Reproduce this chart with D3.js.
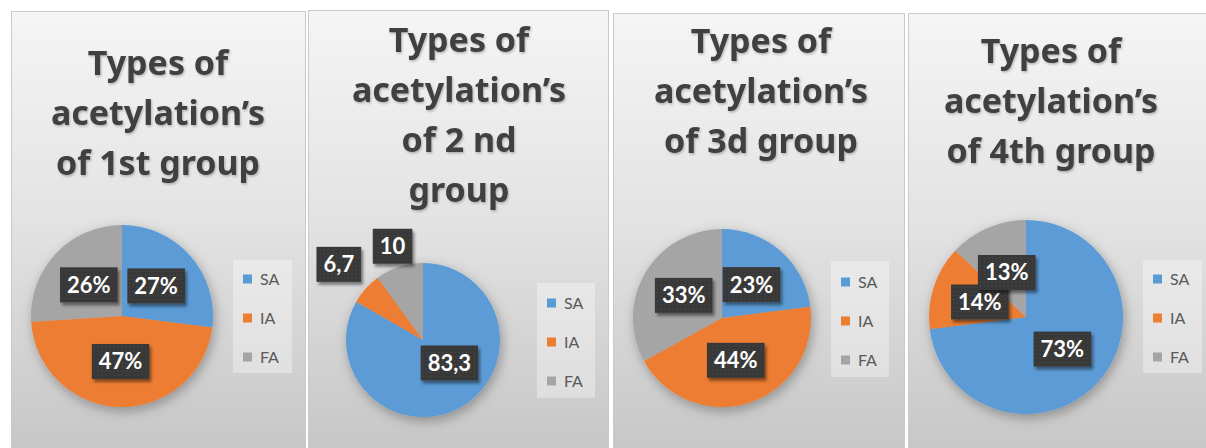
<!DOCTYPE html>
<html>
<head>
<meta charset="utf-8">
<script src="https://cdn.jsdelivr.net/npm/d3@7"></script>
<style>
  html, body { margin: 0; padding: 0; background: #ffffff; }
  svg { display: block; }
</style>
</head>
<body>
<svg id="chart" width="1206" height="448"></svg>
<script>
// Acetylation types per group
const categories = ["SA", "IA", "FA"];
const colors = ["#5b9bd5", "#ed7d31", "#a5a5a5"];

const titles1 = ["Types of", "acetylation\u2019s", "of 1st group"];
const titles2 = ["Types of", "acetylation\u2019s", "of 2 nd", "group"];
const titles3 = ["Types of", "acetylation\u2019s", "of 3d group"];
const titles4 = ["Types of", "acetylation\u2019s", "of 4th group"];

const values1 = [27, 47, 26];
const values2 = [83.3, 6.7, 10];
const values3 = [23, 44, 33];
const values4 = [73, 14, 13];

const labels1 = ["27%", "47%", "26%"];
const labels2 = ["83,3", "6,7", "10"];
const labels3 = ["23%", "44%", "33%"];
const labels4 = ["73%", "14%", "13%"];

// Panel geometry (layout only)
const panels = [
  { titles: titles1, values: values1, labels: labels1,
    box: [11, 11, 294], titleX: 158, titleY: 75,
    cx: 122, cy: 316, r: 91,
    labelK: [1, 1, 1], nudge: [[0, 0], [0, 0], [0, 0]],
    legend: [233, 260, 59, 113], legendY0: 279 },
  { titles: titles2, values: values2, labels: labels2,
    box: [308, 10, 300], titleX: 459, titleY: 52,
    cx: 423, cy: 340, r: 77,
    labelK: [0.9, 2.94, 2.56], nudge: [[9, -7], [0, 0], [0, 0]],
    legend: [537, 283, 58, 115], legendY0: 303 },
  { titles: titles3, values: values3, labels: labels3,
    box: [613, 13, 291], titleX: 761, titleY: 53,
    cx: 722, cy: 318, r: 89,
    labelK: [1, 1, 1], nudge: [[0, 0], [0, 0], [0, 0]],
    legend: [831, 261, 58, 116], legendY0: 282 },
  { titles: titles4, values: values4, labels: labels4,
    box: [908, 13, 310], titleX: 1051, titleY: 63,
    cx: 1026, cy: 317, r: 97,
    labelK: [1, 1, 1], nudge: [[0, 0], [0, 0], [0, 0]],
    legend: [1143, 260, 59, 113], legendY0: 279 }
];

const svg = d3.select("#chart");
const defs = svg.append("defs");

// panel background gradient
const grad = defs.append("linearGradient")
  .attr("id", "panelBg").attr("x1", 0).attr("y1", 0).attr("x2", 0).attr("y2", 1);
grad.append("stop").attr("offset", "0%").attr("stop-color", "#f5f5f5");
grad.append("stop").attr("offset", "45%").attr("stop-color", "#e3e3e3");
grad.append("stop").attr("offset", "100%").attr("stop-color", "#c4c4c4");

// soft shadow around the pies
const pieShadow = defs.append("filter").attr("id", "pieShadow")
  .attr("x", "-30%").attr("y", "-30%").attr("width", "160%").attr("height", "160%");
pieShadow.append("feDropShadow").attr("dx", 2).attr("dy", 4)
  .attr("stdDeviation", 6).attr("flood-color", "#000").attr("flood-opacity", 0.3);

// shadow under data label boxes
const boxShadow = defs.append("filter").attr("id", "boxShadow")
  .attr("x", "-30%").attr("y", "-30%").attr("width", "160%").attr("height", "170%");
boxShadow.append("feDropShadow").attr("dx", 2).attr("dy", 3)
  .attr("stdDeviation", 1.5).attr("flood-color", "#000").attr("flood-opacity", 0.45);

// title shadow
const textShadow = defs.append("filter").attr("id", "textShadow")
  .attr("x", "-10%").attr("y", "-20%").attr("width", "120%").attr("height", "150%");
textShadow.append("feDropShadow").attr("dx", 1).attr("dy", 1.5)
  .attr("stdDeviation", 1).attr("flood-color", "#000").attr("flood-opacity", 0.25);

// dotted fill for label boxes
const dots = defs.append("pattern").attr("id", "dotFill")
  .attr("width", 4).attr("height", 4).attr("patternUnits", "userSpaceOnUse");
dots.append("rect").attr("width", 4).attr("height", 4).attr("fill", "#383838");
dots.append("rect").attr("x", 1).attr("y", 1).attr("width", 1).attr("height", 1).attr("fill", "#4e4e4e");

const pie = d3.pie().sort(null).value(d => d);

panels.forEach((p, pi) => {
  const g = svg.append("g");

  // panel frame
  g.append("rect")
    .attr("x", p.box[0] + 0.5).attr("y", p.box[1] + 0.5)
    .attr("width", p.box[2]).attr("height", 460)
    .attr("fill", "url(#panelBg)")
    .attr("stroke", "#c9c9c9").attr("stroke-width", 1);

  // title
  const title = g.append("text")
    .attr("x", p.titleX).attr("y", p.titleY)
    .attr("text-anchor", "middle")
    .attr("font-family", "'Noto Sans', 'Open Sans', sans-serif")
    .attr("font-weight", 700).attr("font-size", 34)
    .attr("fill", "#404040")
    .attr("filter", "url(#textShadow)");
  p.titles.forEach((line, i) => {
    title.append("tspan").attr("x", p.titleX).attr("y", p.titleY + i * 50).text(line);
  });

  // pie
  const arc = d3.arc().innerRadius(0).outerRadius(p.r);
  const arcs = pie(p.values);
  const pieG = g.append("g")
    .attr("transform", `translate(${p.cx},${p.cy})`);
  pieG.append("g").attr("filter", "url(#pieShadow)")
    .selectAll("path").data(arcs).join("path")
    .attr("d", arc)
    .attr("fill", (d, i) => colors[i]);

  // data labels
  const labelG = pieG.selectAll("g.lbl").data(arcs).join("g").attr("class", "lbl")
    .attr("transform", (d, i) => {
      const c = arc.centroid(d);
      const k = p.labelK[i];
      return `translate(${c[0] * k + p.nudge[i][0]},${c[1] * k + p.nudge[i][1]})`;
    });
  labelG.each(function(d, i) {
    const lg = d3.select(this);
    const t = lg.append("text")
      .attr("text-anchor", "middle").attr("dy", "0.36em")
      .attr("font-family", "Lato, 'Open Sans', sans-serif")
      .attr("font-weight", 700).attr("font-size", 22)
      .attr("fill", "#ffffff")
      .text(p.labels[i]);
    const w = t.node().getComputedTextLength() + 14;
    const h = 35;
    lg.insert("rect", "text")
      .attr("x", -w / 2).attr("y", -h / 2)
      .attr("width", w).attr("height", h)
      .attr("fill", "url(#dotFill)")
      .attr("filter", "url(#boxShadow)");
  });

  // legend
  const [lx, ly, lw, lh] = p.legend;
  g.append("rect").attr("x", lx).attr("y", ly).attr("width", lw).attr("height", lh)
    .attr("fill", "#ffffff").attr("fill-opacity", 0.35);
  const items = g.selectAll("g.leg").data(categories).join("g").attr("class", "leg")
    .attr("transform", (d, i) => `translate(${lx + 10},${p.legendY0 + i * 39})`);
  items.append("rect").attr("x", 0).attr("y", -4.5).attr("width", 9).attr("height", 9)
    .attr("fill", (d, i) => colors[i]);
  items.append("text").attr("x", 17).attr("dy", "0.36em")
    .attr("font-family", "Lato, 'Open Sans', sans-serif")
    .attr("font-size", 16).attr("fill", "#595959")
    .text(d => d);
});
</script>
</body>
</html>
